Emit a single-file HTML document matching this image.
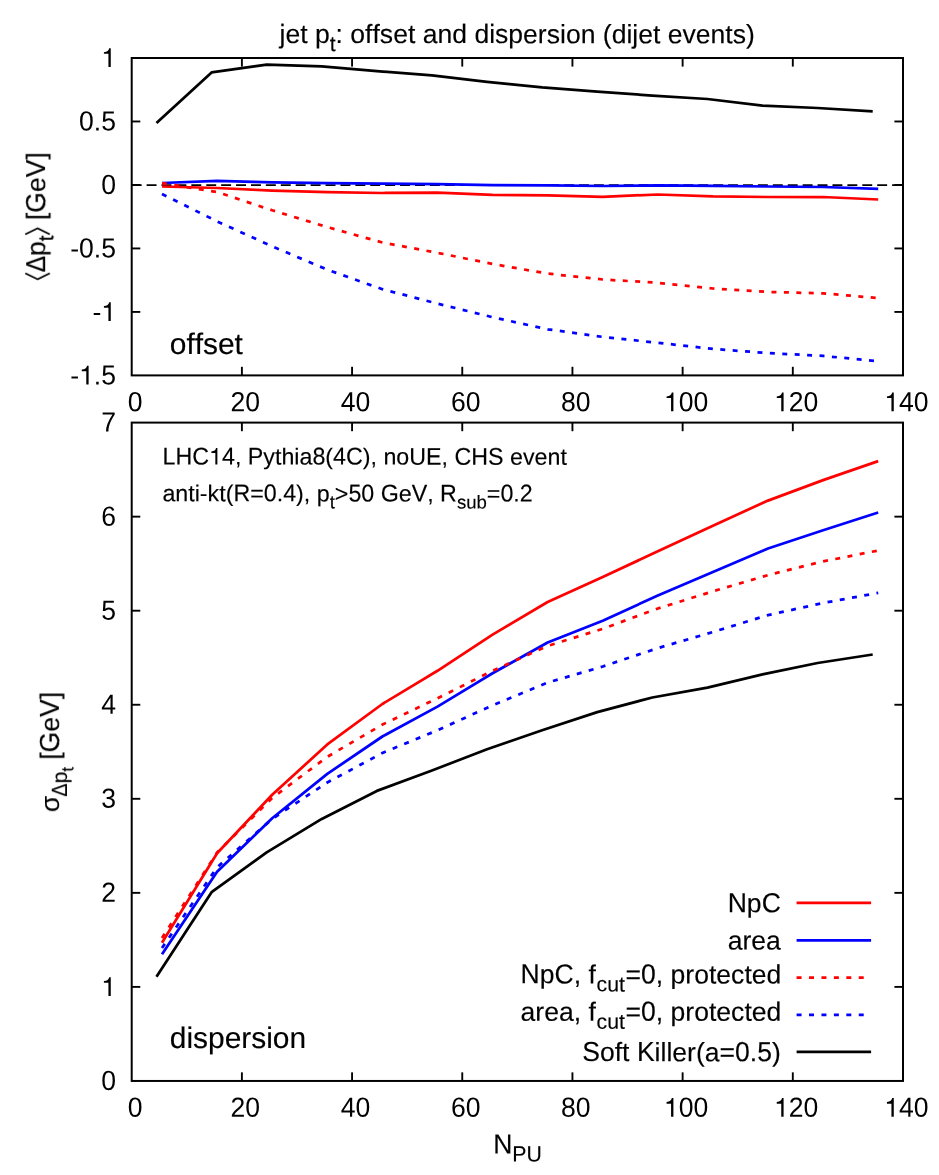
<!DOCTYPE html>
<html><head><meta charset="utf-8"><title>jet pt: offset and dispersion</title>
<style>html,body{margin:0;padding:0;background:#fff;}body{width:939px;height:1175px;overflow:hidden;}svg{display:block;}text{font-family:"Liberation Sans",sans-serif;fill:#000;font-kerning:none;white-space:pre;text-rendering:geometricPrecision;}</style></head><body>
<svg width="939" height="1175" viewBox="0 0 939 1175">
<rect x="0" y="0" width="939" height="1175" fill="#fff"/>
<g style="opacity:0.999">
<g stroke="#000" fill="none" stroke-width="1.90" stroke-linecap="butt">
<line x1="241.89" y1="375.40" x2="241.89" y2="366.80"/>
<line x1="241.89" y1="58.00" x2="241.89" y2="66.60"/>
<line x1="352.07" y1="375.40" x2="352.07" y2="366.80"/>
<line x1="352.07" y1="58.00" x2="352.07" y2="66.60"/>
<line x1="462.26" y1="375.40" x2="462.26" y2="366.80"/>
<line x1="462.26" y1="58.00" x2="462.26" y2="66.60"/>
<line x1="572.44" y1="375.40" x2="572.44" y2="366.80"/>
<line x1="572.44" y1="58.00" x2="572.44" y2="66.60"/>
<line x1="682.63" y1="375.40" x2="682.63" y2="366.80"/>
<line x1="682.63" y1="58.00" x2="682.63" y2="66.60"/>
<line x1="792.81" y1="375.40" x2="792.81" y2="366.80"/>
<line x1="792.81" y1="58.00" x2="792.81" y2="66.60"/>
<line x1="131.70" y1="121.48" x2="140.30" y2="121.48"/>
<line x1="903.00" y1="121.48" x2="894.40" y2="121.48"/>
<line x1="131.70" y1="184.96" x2="140.30" y2="184.96"/>
<line x1="903.00" y1="184.96" x2="894.40" y2="184.96"/>
<line x1="131.70" y1="248.44" x2="140.30" y2="248.44"/>
<line x1="903.00" y1="248.44" x2="894.40" y2="248.44"/>
<line x1="131.70" y1="311.92" x2="140.30" y2="311.92"/>
<line x1="903.00" y1="311.92" x2="894.40" y2="311.92"/>
</g>
<rect x="131.70" y="58.00" width="771.30" height="317.40" fill="none" stroke="#000" stroke-width="2.00" stroke-linejoin="miter"/>
<line x1="131.70" y1="185.16" x2="903.00" y2="185.16" stroke="#000" stroke-width="1.70" stroke-dasharray="9.94 4.97"/>
<g fill="none" stroke-linejoin="round" stroke-linecap="butt" stroke-width="2.75">
<polyline stroke="#ff0000" points="162.00,186.50 217.09,188.00 272.19,190.70 327.28,192.20 382.37,193.00 437.47,192.60 492.56,194.90 547.65,195.30 602.74,196.80 657.84,194.50 712.93,196.40 768.02,197.00 823.12,197.00 878.21,199.50"/>
<polyline stroke="#0000ff" points="162.00,183.00 217.09,180.90 272.19,182.30 327.28,183.10 382.37,183.60 437.47,184.20 492.56,185.10 547.65,185.30 602.74,186.00 657.84,185.30 712.93,185.90 768.02,186.50 823.12,187.00 878.21,188.90"/>
<polyline stroke="#ff0000" stroke-dasharray="4.97 7.46" points="162.00,183.10 217.09,192.00 272.19,210.30 327.28,227.10 382.37,242.50 437.47,252.80 492.56,264.00 547.65,273.60 602.74,279.50 657.84,282.80 712.93,288.50 768.02,292.00 823.12,293.30 878.21,298.10"/>
<polyline stroke="#0000ff" stroke-dasharray="4.97 7.46" points="162.00,194.00 217.09,221.40 272.19,246.30 327.28,269.70 382.37,289.20 437.47,303.60 492.56,317.20 547.65,329.30 602.74,336.90 657.84,342.80 712.93,348.90 768.02,353.10 823.12,355.90 878.21,361.30"/>
<polyline stroke="#000000" points="156.49,122.90 211.58,72.40 266.68,64.70 321.77,66.40 376.86,71.10 431.96,75.40 487.05,81.80 542.14,87.40 597.23,91.70 652.33,95.60 707.42,99.00 762.51,105.70 817.61,108.00 872.70,111.30"/>
</g>
<g transform="translate(116.00,67.00)">
<path d="M-5.24,0.00 L-5.24,-18.72 L-6.80,-18.72 C-7.23,-16.37 -8.88,-14.96 -12.09,-14.80 L-12.09,-13.15 L-7.57,-13.15 L-7.57,0.00 Z" fill="#000"/>
</g>
<g transform="translate(116.00,130.48)">
<text transform="translate(0,0.00) rotate(0.03) scale(1,1.0450)" font-size="26.56" x="-36.92">0</text>
<text transform="translate(0,0.00) rotate(0.03) scale(1,0.9950)" font-size="26.56" x="-22.15">.</text>
<text transform="translate(0,0.00) rotate(0.03) scale(1,1.0450)" font-size="26.56" x="-14.77">5</text>
</g>
<g transform="translate(116.00,193.96)">
<text transform="translate(0,0.00) rotate(0.03) scale(1,1.0450)" font-size="26.56" x="-14.77">0</text>
</g>
<g transform="translate(116.00,257.44)">
<text transform="translate(0,0.00) rotate(0.03) scale(1,0.9950)" font-size="26.56" x="-45.77">-</text>
<text transform="translate(0,0.00) rotate(0.03) scale(1,1.0450)" font-size="26.56" x="-36.92">0</text>
<text transform="translate(0,0.00) rotate(0.03) scale(1,0.9950)" font-size="26.56" x="-22.15">.</text>
<text transform="translate(0,0.00) rotate(0.03) scale(1,1.0450)" font-size="26.56" x="-14.77">5</text>
</g>
<g transform="translate(116.00,320.92)">
<text transform="translate(0,0.00) rotate(0.03) scale(1,0.9950)" font-size="26.56" x="-23.62">-</text>
<path d="M-5.24,0.00 L-5.24,-18.72 L-6.80,-18.72 C-7.23,-16.37 -8.88,-14.96 -12.09,-14.80 L-12.09,-13.15 L-7.57,-13.15 L-7.57,0.00 Z" fill="#000"/>
</g>
<g transform="translate(116.00,384.40)">
<text transform="translate(0,0.00) rotate(0.03) scale(1,0.9950)" font-size="26.56" x="-45.77">-</text>
<path d="M-27.39,0.00 L-27.39,-18.72 L-28.95,-18.72 C-29.38,-16.37 -31.03,-14.96 -34.24,-14.80 L-34.24,-13.15 L-29.72,-13.15 L-29.72,0.00 Z" fill="#000"/>
<text transform="translate(0,0.00) rotate(0.03) scale(1,0.9950)" font-size="26.56" x="-22.15">.</text>
<text transform="translate(0,0.00) rotate(0.03) scale(1,1.0450)" font-size="26.56" x="-14.77">5</text>
</g>
<g transform="translate(135.10,411.20)">
<text transform="translate(0,0.00) rotate(0.03) scale(1,1.0450)" font-size="26.56" x="-7.39">0</text>
</g>
<g transform="translate(245.29,411.20)">
<text transform="translate(0,0.00) rotate(0.03) scale(1,1.0450)" font-size="26.56" x="-14.77 0.00">20</text>
</g>
<g transform="translate(355.47,411.20)">
<text transform="translate(0,0.00) rotate(0.03) scale(1,1.0450)" font-size="26.56" x="-14.77 0.00">40</text>
</g>
<g transform="translate(465.66,411.20)">
<text transform="translate(0,0.00) rotate(0.03) scale(1,1.0450)" font-size="26.56" x="-14.77 0.00">60</text>
</g>
<g transform="translate(575.84,411.20)">
<text transform="translate(0,0.00) rotate(0.03) scale(1,1.0450)" font-size="26.56" x="-14.77 0.00">80</text>
</g>
<g transform="translate(686.03,411.20)">
<path d="M-12.62,0.00 L-12.62,-18.72 L-14.19,-18.72 C-14.61,-16.37 -16.26,-14.96 -19.47,-14.80 L-19.47,-13.15 L-14.96,-13.15 L-14.96,0.00 Z" fill="#000"/>
<text transform="translate(0,0.00) rotate(0.03) scale(1,1.0450)" font-size="26.56" x="-7.39 7.39">00</text>
</g>
<g transform="translate(796.21,411.20)">
<path d="M-12.62,0.00 L-12.62,-18.72 L-14.19,-18.72 C-14.61,-16.37 -16.26,-14.96 -19.47,-14.80 L-19.47,-13.15 L-14.96,-13.15 L-14.96,0.00 Z" fill="#000"/>
<text transform="translate(0,0.00) rotate(0.03) scale(1,1.0450)" font-size="26.56" x="-7.39 7.39">20</text>
</g>
<g transform="translate(906.40,411.20)">
<path d="M-12.62,0.00 L-12.62,-18.72 L-14.19,-18.72 C-14.61,-16.37 -16.26,-14.96 -19.47,-14.80 L-19.47,-13.15 L-14.96,-13.15 L-14.96,0.00 Z" fill="#000"/>
<text transform="translate(0,0.00) rotate(0.03) scale(1,1.0450)" font-size="26.56" x="-7.39 7.39">40</text>
</g>
<g transform="translate(279.50,43.00)">
<text transform="translate(0,0.00) rotate(0.03) scale(1,0.9950)" font-size="26.56" stroke="#000" stroke-width="0.15" x="0.00 5.90 20.67 28.05 35.43">jet p</text>
<text transform="translate(0,7.97) rotate(0.03) scale(1,0.9950)" font-size="21.25" stroke="#000" stroke-width="0.15" x="50.20">t</text>
<text transform="translate(0,0.00) rotate(0.03) scale(1,0.9950)" font-size="26.56" stroke="#000" stroke-width="0.15" x="56.11 63.48 70.86 85.64 93.01 100.39 113.67 128.45 135.82 143.20 157.97 172.75 187.52 194.90 209.67 215.57 228.85 243.62 258.39 267.24 280.52 286.42 301.19 315.96 323.34 332.18 346.96 352.86 358.76 373.53 380.91 388.29 403.06 416.34 431.11 445.88 453.26 466.54">: offset and dispersion (dijet events)</text>
</g>
<g transform="translate(169.80,353.90)">
<text transform="translate(0,0.00) rotate(0.03) scale(1,0.9950)" font-size="29.90" stroke="#000" stroke-width="0.15" x="0.00 16.63 24.94 33.24 48.19 64.82">offset</text>
</g>
<g stroke="#000" fill="none" stroke-width="1.90" stroke-linecap="butt">
<line x1="241.89" y1="1080.95" x2="241.89" y2="1072.35"/>
<line x1="241.89" y1="422.60" x2="241.89" y2="431.20"/>
<line x1="352.07" y1="1080.95" x2="352.07" y2="1072.35"/>
<line x1="352.07" y1="422.60" x2="352.07" y2="431.20"/>
<line x1="462.26" y1="1080.95" x2="462.26" y2="1072.35"/>
<line x1="462.26" y1="422.60" x2="462.26" y2="431.20"/>
<line x1="572.44" y1="1080.95" x2="572.44" y2="1072.35"/>
<line x1="572.44" y1="422.60" x2="572.44" y2="431.20"/>
<line x1="682.63" y1="1080.95" x2="682.63" y2="1072.35"/>
<line x1="682.63" y1="422.60" x2="682.63" y2="431.20"/>
<line x1="792.81" y1="1080.95" x2="792.81" y2="1072.35"/>
<line x1="792.81" y1="422.60" x2="792.81" y2="431.20"/>
<line x1="131.70" y1="986.90" x2="140.30" y2="986.90"/>
<line x1="903.00" y1="986.90" x2="894.40" y2="986.90"/>
<line x1="131.70" y1="892.85" x2="140.30" y2="892.85"/>
<line x1="903.00" y1="892.85" x2="894.40" y2="892.85"/>
<line x1="131.70" y1="798.80" x2="140.30" y2="798.80"/>
<line x1="903.00" y1="798.80" x2="894.40" y2="798.80"/>
<line x1="131.70" y1="704.75" x2="140.30" y2="704.75"/>
<line x1="903.00" y1="704.75" x2="894.40" y2="704.75"/>
<line x1="131.70" y1="610.70" x2="140.30" y2="610.70"/>
<line x1="903.00" y1="610.70" x2="894.40" y2="610.70"/>
<line x1="131.70" y1="516.65" x2="140.30" y2="516.65"/>
<line x1="903.00" y1="516.65" x2="894.40" y2="516.65"/>
</g>
<rect x="131.70" y="422.60" width="771.30" height="658.35" fill="none" stroke="#000" stroke-width="2.00" stroke-linejoin="miter"/>
<g fill="none" stroke-linejoin="round" stroke-linecap="butt" stroke-width="2.75">
<polyline stroke="#ff0000" points="162.00,942.70 217.09,853.20 272.19,794.80 327.28,744.40 382.37,704.00 437.47,670.80 492.56,634.60 547.65,602.00 602.74,577.00 657.84,551.30 712.93,525.70 768.02,500.60 823.12,480.10 878.21,461.10"/>
<polyline stroke="#0000ff" points="162.00,954.20 217.09,871.80 272.19,818.30 327.28,773.90 382.37,736.50 437.47,706.60 492.56,673.30 547.65,642.50 602.74,620.80 657.84,595.50 712.93,572.10 768.02,548.50 823.12,530.20 878.21,512.50"/>
<polyline stroke="#ff0000" stroke-dasharray="4.97 7.46" points="162.00,937.90 217.09,852.60 272.19,798.00 327.28,756.80 382.37,724.60 437.47,698.30 492.56,670.80 547.65,645.90 602.74,628.80 657.84,608.50 712.93,591.30 768.02,575.10 823.12,561.40 878.21,550.50"/>
<polyline stroke="#0000ff" stroke-dasharray="4.97 7.46" points="162.00,948.00 217.09,867.30 272.19,818.90 327.28,782.50 382.37,753.00 437.47,730.30 492.56,705.30 547.65,682.60 602.74,666.50 657.84,648.10 712.93,632.00 768.02,615.10 823.12,603.00 878.21,592.90"/>
<polyline stroke="#000000" points="156.49,976.70 211.58,892.20 266.68,852.40 321.77,818.90 376.86,790.90 431.96,770.50 487.05,749.20 542.14,730.30 597.23,712.10 652.33,697.50 707.42,687.60 762.51,674.40 817.61,663.00 872.70,654.50"/>
</g>
<g transform="translate(116.00,1089.95)">
<text transform="translate(0,0.00) rotate(0.03) scale(1,1.0450)" font-size="26.56" x="-14.77">0</text>
</g>
<g transform="translate(116.00,995.90)">
<path d="M-5.24,0.00 L-5.24,-18.72 L-6.80,-18.72 C-7.23,-16.37 -8.88,-14.96 -12.09,-14.80 L-12.09,-13.15 L-7.57,-13.15 L-7.57,0.00 Z" fill="#000"/>
</g>
<g transform="translate(116.00,901.85)">
<text transform="translate(0,0.00) rotate(0.03) scale(1,1.0450)" font-size="26.56" x="-14.77">2</text>
</g>
<g transform="translate(116.00,807.80)">
<text transform="translate(0,0.00) rotate(0.03) scale(1,1.0450)" font-size="26.56" x="-14.77">3</text>
</g>
<g transform="translate(116.00,713.75)">
<text transform="translate(0,0.00) rotate(0.03) scale(1,1.0450)" font-size="26.56" x="-14.77">4</text>
</g>
<g transform="translate(116.00,619.70)">
<text transform="translate(0,0.00) rotate(0.03) scale(1,1.0450)" font-size="26.56" x="-14.77">5</text>
</g>
<g transform="translate(116.00,525.65)">
<text transform="translate(0,0.00) rotate(0.03) scale(1,1.0450)" font-size="26.56" x="-14.77">6</text>
</g>
<g transform="translate(116.00,431.60)">
<text transform="translate(0,0.00) rotate(0.03) scale(1,1.0450)" font-size="26.56" x="-14.77">7</text>
</g>
<g transform="translate(135.10,1116.80)">
<text transform="translate(0,0.00) rotate(0.03) scale(1,1.0450)" font-size="26.56" x="-7.39">0</text>
</g>
<g transform="translate(245.29,1116.80)">
<text transform="translate(0,0.00) rotate(0.03) scale(1,1.0450)" font-size="26.56" x="-14.77 0.00">20</text>
</g>
<g transform="translate(355.47,1116.80)">
<text transform="translate(0,0.00) rotate(0.03) scale(1,1.0450)" font-size="26.56" x="-14.77 0.00">40</text>
</g>
<g transform="translate(465.66,1116.80)">
<text transform="translate(0,0.00) rotate(0.03) scale(1,1.0450)" font-size="26.56" x="-14.77 0.00">60</text>
</g>
<g transform="translate(575.84,1116.80)">
<text transform="translate(0,0.00) rotate(0.03) scale(1,1.0450)" font-size="26.56" x="-14.77 0.00">80</text>
</g>
<g transform="translate(686.03,1116.80)">
<path d="M-12.62,0.00 L-12.62,-18.72 L-14.19,-18.72 C-14.61,-16.37 -16.26,-14.96 -19.47,-14.80 L-19.47,-13.15 L-14.96,-13.15 L-14.96,0.00 Z" fill="#000"/>
<text transform="translate(0,0.00) rotate(0.03) scale(1,1.0450)" font-size="26.56" x="-7.39 7.39">00</text>
</g>
<g transform="translate(796.21,1116.80)">
<path d="M-12.62,0.00 L-12.62,-18.72 L-14.19,-18.72 C-14.61,-16.37 -16.26,-14.96 -19.47,-14.80 L-19.47,-13.15 L-14.96,-13.15 L-14.96,0.00 Z" fill="#000"/>
<text transform="translate(0,0.00) rotate(0.03) scale(1,1.0450)" font-size="26.56" x="-7.39 7.39">20</text>
</g>
<g transform="translate(906.40,1116.80)">
<path d="M-12.62,0.00 L-12.62,-18.72 L-14.19,-18.72 C-14.61,-16.37 -16.26,-14.96 -19.47,-14.80 L-19.47,-13.15 L-14.96,-13.15 L-14.96,0.00 Z" fill="#000"/>
<text transform="translate(0,0.00) rotate(0.03) scale(1,1.0450)" font-size="26.56" x="-7.39 7.39">40</text>
</g>
<g transform="translate(169.80,1048.00)">
<text transform="translate(0,0.00) rotate(0.03) scale(1,0.9950)" font-size="29.90" stroke="#000" stroke-width="0.15" x="0.00 16.63 23.27 38.22 54.85 71.48 81.44 96.39 103.03 119.66">dispersion</text>
</g>
<g transform="translate(162.55,464.50)">
<text transform="translate(0,0.00) rotate(0.03) scale(1,1.0400)" font-size="23.24" stroke="#000" stroke-width="0.15" x="0.00 12.92 29.71">LHC</text>
<path d="M54.83,0.00 L54.83,-16.38 L53.46,-16.38 C53.09,-14.32 51.65,-13.09 48.84,-12.95 L48.84,-11.51 L52.79,-11.51 L52.79,0.00 Z" fill="#000"/>
<text transform="translate(0,0.00) rotate(0.03) scale(1,1.0450)" font-size="23.24" stroke="#000" stroke-width="0.15" x="59.42">4</text>
<text transform="translate(0,0.00) rotate(0.03) scale(1,0.9950)" font-size="23.24" stroke="#000" stroke-width="0.15" x="72.34 78.80">, </text>
<text transform="translate(0,0.00) rotate(0.03) scale(1,1.0400)" font-size="23.24" stroke="#000" stroke-width="0.15" x="85.25">P</text>
<text transform="translate(0,0.00) rotate(0.03) scale(1,0.9950)" font-size="23.24" stroke="#000" stroke-width="0.15" x="100.76 112.38 118.83 131.76 136.92">ythia</text>
<text transform="translate(0,0.00) rotate(0.03) scale(1,1.0450)" font-size="23.24" stroke="#000" stroke-width="0.15" x="149.85">8</text>
<text transform="translate(0,0.00) rotate(0.03) scale(1,0.9950)" font-size="23.24" stroke="#000" stroke-width="0.15" x="162.77">(</text>
<text transform="translate(0,0.00) rotate(0.03) scale(1,1.0450)" font-size="23.24" stroke="#000" stroke-width="0.15" x="170.51">4</text>
<text transform="translate(0,0.00) rotate(0.03) scale(1,1.0400)" font-size="23.24" stroke="#000" stroke-width="0.15" x="183.43">C</text>
<text transform="translate(0,0.00) rotate(0.03) scale(1,0.9950)" font-size="23.24" stroke="#000" stroke-width="0.15" x="200.22 207.96 214.41 220.87 233.80">), no</text>
<text transform="translate(0,0.00) rotate(0.03) scale(1,1.0400)" font-size="23.24" stroke="#000" stroke-width="0.15" x="246.72 263.50">UE</text>
<text transform="translate(0,0.00) rotate(0.03) scale(1,0.9950)" font-size="23.24" stroke="#000" stroke-width="0.15" x="279.00 285.46">, </text>
<text transform="translate(0,0.00) rotate(0.03) scale(1,1.0400)" font-size="23.24" stroke="#000" stroke-width="0.15" x="291.92 308.70 325.48 340.99">CHS </text>
<text transform="translate(0,0.00) rotate(0.03) scale(1,0.9950)" font-size="23.24" stroke="#000" stroke-width="0.15" x="347.44 360.37 371.99 384.91 397.84">event</text>
</g>
<g transform="translate(162.40,501.30)">
<text transform="translate(0,0.00) rotate(0.03) scale(1,0.9950)" font-size="23.24" stroke="#000" stroke-width="0.15" x="0.00 12.92 25.85 32.31 37.47 45.21 56.83 63.29">anti-kt(</text>
<text transform="translate(0,0.00) rotate(0.03) scale(1,1.0400)" font-size="23.24" stroke="#000" stroke-width="0.15" x="71.02">R</text>
<text transform="translate(0,0.00) rotate(0.03) scale(1,0.9950)" font-size="23.24" stroke="#000" stroke-width="0.15" x="87.81">=</text>
<text transform="translate(0,0.00) rotate(0.03) scale(1,1.0450)" font-size="23.24" stroke="#000" stroke-width="0.15" x="101.38">0</text>
<text transform="translate(0,0.00) rotate(0.03) scale(1,0.9950)" font-size="23.24" stroke="#000" stroke-width="0.15" x="114.30">.</text>
<text transform="translate(0,0.00) rotate(0.03) scale(1,1.0450)" font-size="23.24" stroke="#000" stroke-width="0.15" x="120.76">4</text>
<text transform="translate(0,0.00) rotate(0.03) scale(1,0.9950)" font-size="23.24" stroke="#000" stroke-width="0.15" x="133.69 141.43 147.88 154.34">), p</text>
<text transform="translate(0,6.97) rotate(0.03) scale(1,0.9950)" font-size="18.59" stroke="#000" stroke-width="0.15" x="167.26">t</text>
<text transform="translate(0,0.00) rotate(0.03) scale(1,0.9950)" font-size="23.24" stroke="#000" stroke-width="0.15" x="172.43">&gt;</text>
<text transform="translate(0,0.00) rotate(0.03) scale(1,1.0450)" font-size="23.24" stroke="#000" stroke-width="0.15" x="186.00 198.93 211.85">50 </text>
<text transform="translate(0,0.00) rotate(0.03) scale(1,1.0400)" font-size="23.24" stroke="#000" stroke-width="0.15" x="218.31">G</text>
<text transform="translate(0,0.00) rotate(0.03) scale(1,0.9950)" font-size="23.24" stroke="#000" stroke-width="0.15" x="236.39">e</text>
<text transform="translate(0,0.00) rotate(0.03) scale(1,1.0400)" font-size="23.24" stroke="#000" stroke-width="0.15" x="249.31">V</text>
<text transform="translate(0,0.00) rotate(0.03) scale(1,0.9950)" font-size="23.24" stroke="#000" stroke-width="0.15" x="264.81 271.27">, </text>
<text transform="translate(0,0.00) rotate(0.03) scale(1,1.0400)" font-size="23.24" stroke="#000" stroke-width="0.15" x="277.72">R</text>
<text transform="translate(0,6.97) rotate(0.03) scale(1,0.9950)" font-size="18.59" stroke="#000" stroke-width="0.15" x="294.51 303.80 314.14">sub</text>
<text transform="translate(0,0.00) rotate(0.03) scale(1,0.9950)" font-size="23.24" stroke="#000" stroke-width="0.15" x="324.48">=</text>
<text transform="translate(0,0.00) rotate(0.03) scale(1,1.0450)" font-size="23.24" stroke="#000" stroke-width="0.15" x="338.06">0</text>
<text transform="translate(0,0.00) rotate(0.03) scale(1,0.9950)" font-size="23.24" stroke="#000" stroke-width="0.15" x="350.98">.</text>
<text transform="translate(0,0.00) rotate(0.03) scale(1,1.0450)" font-size="23.24" stroke="#000" stroke-width="0.15" x="357.44">2</text>
</g>
<g transform="translate(493.20,1153.50)">
<text transform="translate(0,0.00) rotate(0.03) scale(1,1.0400)" font-size="26.56" stroke="#000" stroke-width="0.15" x="0.00">N</text>
<text transform="translate(0,7.97) rotate(0.03) scale(1,1.0400)" font-size="21.25" stroke="#000" stroke-width="0.15" x="19.18 33.35">PU</text>
</g>
<line x1="796.60" y1="902.90" x2="871.10" y2="902.90" stroke="#ff0000" stroke-width="2.75"/>
<g transform="translate(780.80,912.20)">
<text transform="translate(0,0.00) rotate(0.03) scale(1,1.0400)" font-size="26.56" stroke="#000" stroke-width="0.15" x="-53.13">N</text>
<text transform="translate(0,0.00) rotate(0.03) scale(1,0.9950)" font-size="26.56" stroke="#000" stroke-width="0.15" x="-33.95">p</text>
<text transform="translate(0,0.00) rotate(0.03) scale(1,1.0400)" font-size="26.56" stroke="#000" stroke-width="0.15" x="-19.18">C</text>
</g>
<line x1="796.60" y1="940.30" x2="871.10" y2="940.30" stroke="#0000ff" stroke-width="2.75"/>
<g transform="translate(780.80,949.60)">
<text transform="translate(0,0.00) rotate(0.03) scale(1,0.9950)" font-size="26.56" stroke="#000" stroke-width="0.15" x="-53.16 -38.39 -29.54 -14.77">area</text>
</g>
<line x1="796.60" y1="977.50" x2="871.10" y2="977.50" stroke="#ff0000" stroke-width="2.75" stroke-dasharray="4.97 7.46"/>
<g transform="translate(781.30,983.50)">
<text transform="translate(0,0.00) rotate(0.03) scale(1,1.0400)" font-size="26.56" stroke="#000" stroke-width="0.15" x="-260.70">N</text>
<text transform="translate(0,0.00) rotate(0.03) scale(1,0.9950)" font-size="26.56" stroke="#000" stroke-width="0.15" x="-241.51">p</text>
<text transform="translate(0,0.00) rotate(0.03) scale(1,1.0400)" font-size="26.56" stroke="#000" stroke-width="0.15" x="-226.74">C</text>
<text transform="translate(0,0.00) rotate(0.03) scale(1,0.9950)" font-size="26.56" stroke="#000" stroke-width="0.15" x="-207.56 -200.18 -192.80">, f</text>
<text transform="translate(0,7.97) rotate(0.03) scale(1,0.9950)" font-size="21.25" stroke="#000" stroke-width="0.15" x="-184.73 -174.10 -162.28">cut</text>
<text transform="translate(0,0.00) rotate(0.03) scale(1,0.9950)" font-size="26.56" stroke="#000" stroke-width="0.15" x="-155.78">=</text>
<text transform="translate(0,0.00) rotate(0.03) scale(1,1.0450)" font-size="26.56" stroke="#000" stroke-width="0.15" x="-140.27">0</text>
<text transform="translate(0,0.00) rotate(0.03) scale(1,0.9950)" font-size="26.56" stroke="#000" stroke-width="0.15" x="-125.50 -118.12 -110.74 -95.97 -87.12 -72.35 -64.97 -50.20 -36.92 -29.54 -14.77">, protected</text>
</g>
<line x1="796.60" y1="1014.80" x2="871.10" y2="1014.80" stroke="#0000ff" stroke-width="2.75" stroke-dasharray="4.97 7.46"/>
<g transform="translate(781.30,1020.80)">
<text transform="translate(0,0.00) rotate(0.03) scale(1,0.9950)" font-size="26.56" stroke="#000" stroke-width="0.15" x="-260.72 -245.95 -237.11 -222.33 -207.56 -200.18 -192.80">area, f</text>
<text transform="translate(0,7.97) rotate(0.03) scale(1,0.9950)" font-size="21.25" stroke="#000" stroke-width="0.15" x="-184.73 -174.10 -162.28">cut</text>
<text transform="translate(0,0.00) rotate(0.03) scale(1,0.9950)" font-size="26.56" stroke="#000" stroke-width="0.15" x="-155.78">=</text>
<text transform="translate(0,0.00) rotate(0.03) scale(1,1.0450)" font-size="26.56" stroke="#000" stroke-width="0.15" x="-140.27">0</text>
<text transform="translate(0,0.00) rotate(0.03) scale(1,0.9950)" font-size="26.56" stroke="#000" stroke-width="0.15" x="-125.50 -118.12 -110.74 -95.97 -87.12 -72.35 -64.97 -50.20 -36.92 -29.54 -14.77">, protected</text>
</g>
<line x1="796.60" y1="1051.90" x2="871.10" y2="1051.90" stroke="#000000" stroke-width="2.75"/>
<g transform="translate(780.80,1061.20)">
<text transform="translate(0,0.00) rotate(0.03) scale(1,1.0400)" font-size="26.56" stroke="#000" stroke-width="0.15" x="-198.55">S</text>
<text transform="translate(0,0.00) rotate(0.03) scale(1,0.9950)" font-size="26.56" stroke="#000" stroke-width="0.15" x="-180.84 -166.06 -158.69 -151.31">oft </text>
<text transform="translate(0,0.00) rotate(0.03) scale(1,1.0400)" font-size="26.56" stroke="#000" stroke-width="0.15" x="-143.93">K</text>
<text transform="translate(0,0.00) rotate(0.03) scale(1,0.9950)" font-size="26.56" stroke="#000" stroke-width="0.15" x="-126.21 -120.31 -114.41 -108.51 -93.74 -84.89 -76.05 -61.28">iller(a=</text>
<text transform="translate(0,0.00) rotate(0.03) scale(1,1.0450)" font-size="26.56" stroke="#000" stroke-width="0.15" x="-45.77">0</text>
<text transform="translate(0,0.00) rotate(0.03) scale(1,0.9950)" font-size="26.56" stroke="#000" stroke-width="0.15" x="-31.00">.</text>
<text transform="translate(0,0.00) rotate(0.03) scale(1,1.0450)" font-size="26.56" stroke="#000" stroke-width="0.15" x="-23.62">5</text>
<text transform="translate(0,0.00) rotate(0.03) scale(1,0.9950)" font-size="26.56" stroke="#000" stroke-width="0.15" x="-8.84">)</text>
</g>
<g transform="translate(45.20,280.80) rotate(-90.06)">
<polyline fill="none" stroke="#000" stroke-width="1.70" stroke-linejoin="miter" points="7.53,-19.81 1.54,-7.62 7.53,4.57"/>
<text transform="translate(8.5,0) rotate(0.03) scale(0.93,1.04)" font-size="26.56" stroke="#000" stroke-width="0.15">Δ</text>
<g transform="translate(24.75,0.00)">
<text transform="translate(0,0.00) rotate(0.03) scale(1,0.9950)" font-size="26.56" stroke="#000" stroke-width="0.15" x="0.00">p</text>
<text transform="translate(0,7.97) rotate(0.03) scale(1,0.9950)" font-size="21.25" stroke="#000" stroke-width="0.15" x="14.77">t</text>
</g>
<polyline fill="none" stroke="#000" stroke-width="1.70" stroke-linejoin="miter" points="46.49,-19.81 52.48,-7.62 46.49,4.57"/>
<g transform="translate(60.70,0.00)">
<text transform="translate(0,0.00) rotate(0.03) scale(1,0.9950)" font-size="26.56" stroke="#000" stroke-width="0.15" x="0.00">[</text>
<text transform="translate(0,0.00) rotate(0.03) scale(1,1.0400)" font-size="26.56" stroke="#000" stroke-width="0.15" x="7.38">G</text>
<text transform="translate(0,0.00) rotate(0.03) scale(1,0.9950)" font-size="26.56" stroke="#000" stroke-width="0.15" x="28.04">e</text>
<text transform="translate(0,0.00) rotate(0.03) scale(1,1.0400)" font-size="26.56" stroke="#000" stroke-width="0.15" x="42.81">V</text>
<text transform="translate(0,0.00) rotate(0.03) scale(1,0.9950)" font-size="26.56" stroke="#000" stroke-width="0.15" x="60.53">]</text>
</g>
</g>
<g transform="translate(59.00,812.20) rotate(-90.06)">
<g transform="translate(0.00,0.00)">
<text transform="translate(0,0.00) rotate(0.03) scale(1,0.9950)" font-size="26.56" stroke="#000" stroke-width="0.15" x="0.00">σ</text>
</g>
<text transform="translate(15.6,7.97) rotate(0.03) scale(0.93,1.04)" font-size="21.25" stroke="#000" stroke-width="0.15">Δ</text>
<g transform="translate(28.74,7.97)">
<text transform="translate(0,0.00) rotate(0.03) scale(1,0.9950)" font-size="21.25" stroke="#000" stroke-width="0.15" x="0.00">p</text>
<text transform="translate(0,6.37) rotate(0.03) scale(1,0.9950)" font-size="17.00" stroke="#000" stroke-width="0.15" x="11.82">t</text>
</g>
<g transform="translate(52.42,0.00)">
<text transform="translate(0,0.00) rotate(0.03) scale(1,0.9950)" font-size="26.56" stroke="#000" stroke-width="0.15" x="0.00">[</text>
<text transform="translate(0,0.00) rotate(0.03) scale(1,1.0400)" font-size="26.56" stroke="#000" stroke-width="0.15" x="7.38">G</text>
<text transform="translate(0,0.00) rotate(0.03) scale(1,0.9950)" font-size="26.56" stroke="#000" stroke-width="0.15" x="28.04">e</text>
<text transform="translate(0,0.00) rotate(0.03) scale(1,1.0400)" font-size="26.56" stroke="#000" stroke-width="0.15" x="42.81">V</text>
<text transform="translate(0,0.00) rotate(0.03) scale(1,0.9950)" font-size="26.56" stroke="#000" stroke-width="0.15" x="60.53">]</text>
</g>
</g>
</g>
</svg></body></html>
